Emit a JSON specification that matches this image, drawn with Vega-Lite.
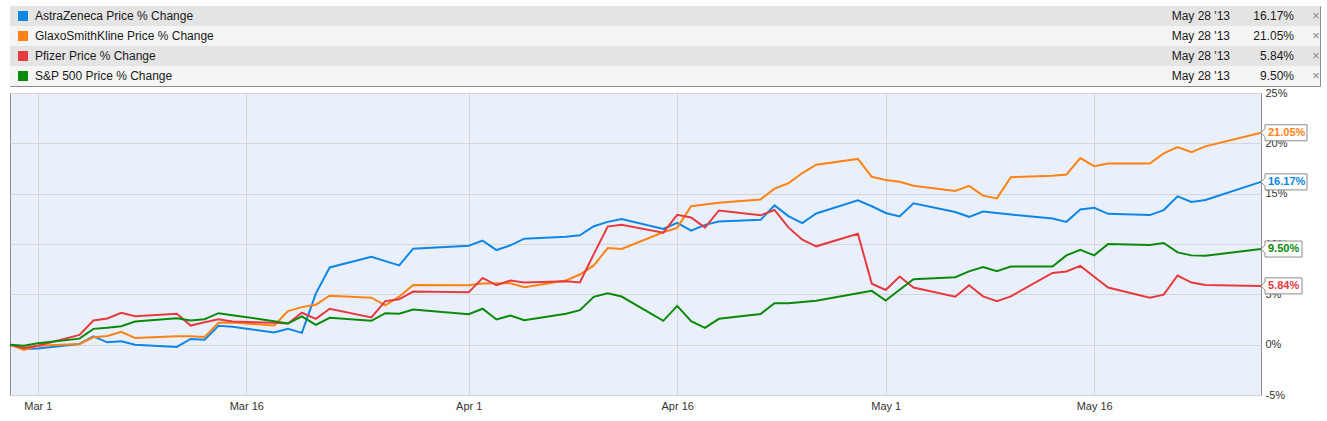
{
  "$schema": "https://vega.github.io/schema/vega-lite/v6.json",
  "background": "white",
  "padding": {"left": 5, "top": 5, "right": 0, "bottom": 0},
  "spacing": 7,
  "bounds": "flush",
  "config": {"font": "Liberation Sans"},
  "datasets": {
    "summary": [
      {"series": "AZN", "label": "AstraZeneca Price % Change", "asOf": "May 28 '13", "date": "2013-05-28", "v": 0.1617},
      {"series": "GSK", "label": "GlaxoSmithKline Price % Change", "asOf": "May 28 '13", "date": "2013-05-28", "v": 0.2105},
      {"series": "PFE", "label": "Pfizer Price % Change", "asOf": "May 28 '13", "date": "2013-05-28", "v": 0.0584},
      {"series": "SPX", "label": "S&P 500 Price % Change", "asOf": "May 28 '13", "date": "2013-05-28", "v": 0.0950}
    ],
    "prices": [
      {"date": "2013-02-27", "AZN": 0, "GSK": 0, "PFE": 0, "SPX": 0},
      {"date": "2013-02-28", "AZN": -0.0043, "GSK": -0.0053, "PFE": -0.0033, "SPX": -0.0010},
      {"date": "2013-03-01", "AZN": -0.0037, "GSK": -0.0010, "PFE": -0.0010, "SPX": 0.0015},
      {"date": "2013-03-04", "AZN": 0.0007, "GSK": 0.0007, "PFE": 0.0097, "SPX": 0.0060},
      {"date": "2013-03-05", "AZN": 0.0083, "GSK": 0.0073, "PFE": 0.0240, "SPX": 0.0157},
      {"date": "2013-03-06", "AZN": 0.0023, "GSK": 0.0087, "PFE": 0.0260, "SPX": 0.0167},
      {"date": "2013-03-07", "AZN": 0.0033, "GSK": 0.0127, "PFE": 0.0317, "SPX": 0.0183},
      {"date": "2013-03-08", "AZN": 0.0000, "GSK": 0.0067, "PFE": 0.0283, "SPX": 0.0230},
      {"date": "2013-03-11", "AZN": -0.0023, "GSK": 0.0083, "PFE": 0.0307, "SPX": 0.0263},
      {"date": "2013-03-12", "AZN": 0.0057, "GSK": 0.0083, "PFE": 0.0190, "SPX": 0.0240},
      {"date": "2013-03-13", "AZN": 0.0050, "GSK": 0.0077, "PFE": 0.0223, "SPX": 0.0253},
      {"date": "2013-03-14", "AZN": 0.0187, "GSK": 0.0217, "PFE": 0.0253, "SPX": 0.0313},
      {"date": "2013-03-15", "AZN": 0.0177, "GSK": 0.0220, "PFE": 0.0230, "SPX": 0.0293},
      {"date": "2013-03-18", "AZN": 0.0120, "GSK": 0.0190, "PFE": 0.0217, "SPX": 0.0233},
      {"date": "2013-03-19", "AZN": 0.0157, "GSK": 0.0333, "PFE": 0.0210, "SPX": 0.0210},
      {"date": "2013-03-20", "AZN": 0.0117, "GSK": 0.0373, "PFE": 0.0317, "SPX": 0.0280},
      {"date": "2013-03-21", "AZN": 0.0507, "GSK": 0.0397, "PFE": 0.0257, "SPX": 0.0197},
      {"date": "2013-03-22", "AZN": 0.0767, "GSK": 0.0487, "PFE": 0.0357, "SPX": 0.0267},
      {"date": "2013-03-25", "AZN": 0.0873, "GSK": 0.0467, "PFE": 0.0270, "SPX": 0.0237},
      {"date": "2013-03-26", "AZN": 0.0830, "GSK": 0.0390, "PFE": 0.0433, "SPX": 0.0313},
      {"date": "2013-03-27", "AZN": 0.0787, "GSK": 0.0477, "PFE": 0.0450, "SPX": 0.0307},
      {"date": "2013-03-28", "AZN": 0.0953, "GSK": 0.0593, "PFE": 0.0527, "SPX": 0.0350},
      {"date": "2013-04-01", "AZN": 0.0983, "GSK": 0.0590, "PFE": 0.0520, "SPX": 0.0303},
      {"date": "2013-04-02", "AZN": 0.1033, "GSK": 0.0607, "PFE": 0.0663, "SPX": 0.0357},
      {"date": "2013-04-03", "AZN": 0.0940, "GSK": 0.0610, "PFE": 0.0590, "SPX": 0.0250},
      {"date": "2013-04-04", "AZN": 0.0987, "GSK": 0.0610, "PFE": 0.0637, "SPX": 0.0290},
      {"date": "2013-04-05", "AZN": 0.1053, "GSK": 0.0570, "PFE": 0.0617, "SPX": 0.0243},
      {"date": "2013-04-08", "AZN": 0.1073, "GSK": 0.0637, "PFE": 0.0630, "SPX": 0.0307},
      {"date": "2013-04-09", "AZN": 0.1087, "GSK": 0.0697, "PFE": 0.0617, "SPX": 0.0343},
      {"date": "2013-04-10", "AZN": 0.1177, "GSK": 0.0787, "PFE": 0.0900, "SPX": 0.0475},
      {"date": "2013-04-11", "AZN": 0.1220, "GSK": 0.0960, "PFE": 0.1173, "SPX": 0.0510},
      {"date": "2013-04-12", "AZN": 0.1247, "GSK": 0.0950, "PFE": 0.1190, "SPX": 0.0478},
      {"date": "2013-04-15", "AZN": 0.1150, "GSK": 0.1117, "PFE": 0.1113, "SPX": 0.0237},
      {"date": "2013-04-16", "AZN": 0.1210, "GSK": 0.1160, "PFE": 0.1290, "SPX": 0.0385},
      {"date": "2013-04-17", "AZN": 0.1133, "GSK": 0.1375, "PFE": 0.1263, "SPX": 0.0233},
      {"date": "2013-04-18", "AZN": 0.1190, "GSK": 0.1393, "PFE": 0.1163, "SPX": 0.0167},
      {"date": "2013-04-19", "AZN": 0.1223, "GSK": 0.1410, "PFE": 0.1333, "SPX": 0.0257},
      {"date": "2013-04-22", "AZN": 0.1240, "GSK": 0.1443, "PFE": 0.1285, "SPX": 0.0305},
      {"date": "2013-04-23", "AZN": 0.1383, "GSK": 0.1550, "PFE": 0.1338, "SPX": 0.0412},
      {"date": "2013-04-24", "AZN": 0.1277, "GSK": 0.1603, "PFE": 0.1165, "SPX": 0.0412},
      {"date": "2013-04-25", "AZN": 0.1207, "GSK": 0.1705, "PFE": 0.1043, "SPX": 0.0423},
      {"date": "2013-04-26", "AZN": 0.1303, "GSK": 0.1788, "PFE": 0.0977, "SPX": 0.0437},
      {"date": "2013-04-29", "AZN": 0.1433, "GSK": 0.1845, "PFE": 0.1102, "SPX": 0.0510},
      {"date": "2013-04-30", "AZN": 0.1375, "GSK": 0.1668, "PFE": 0.0605, "SPX": 0.0535},
      {"date": "2013-05-01", "AZN": 0.1308, "GSK": 0.1635, "PFE": 0.0543, "SPX": 0.0438},
      {"date": "2013-05-02", "AZN": 0.1273, "GSK": 0.1618, "PFE": 0.0677, "SPX": 0.0545},
      {"date": "2013-05-03", "AZN": 0.1405, "GSK": 0.1578, "PFE": 0.0567, "SPX": 0.0650},
      {"date": "2013-05-06", "AZN": 0.1317, "GSK": 0.1527, "PFE": 0.0477, "SPX": 0.0670},
      {"date": "2013-05-07", "AZN": 0.1270, "GSK": 0.1578, "PFE": 0.0590, "SPX": 0.0728},
      {"date": "2013-05-08", "AZN": 0.1323, "GSK": 0.1480, "PFE": 0.0480, "SPX": 0.0770},
      {"date": "2013-05-09", "AZN": 0.1307, "GSK": 0.1453, "PFE": 0.0433, "SPX": 0.0730},
      {"date": "2013-05-10", "AZN": 0.1293, "GSK": 0.1663, "PFE": 0.0480, "SPX": 0.0777},
      {"date": "2013-05-13", "AZN": 0.1253, "GSK": 0.1677, "PFE": 0.0713, "SPX": 0.0777},
      {"date": "2013-05-14", "AZN": 0.1220, "GSK": 0.1690, "PFE": 0.0727, "SPX": 0.0887},
      {"date": "2013-05-15", "AZN": 0.1343, "GSK": 0.1853, "PFE": 0.0783, "SPX": 0.0943},
      {"date": "2013-05-16", "AZN": 0.1360, "GSK": 0.1773, "PFE": 0.0675, "SPX": 0.0887},
      {"date": "2013-05-17", "AZN": 0.1300, "GSK": 0.1800, "PFE": 0.0567, "SPX": 0.1000},
      {"date": "2013-05-20", "AZN": 0.1287, "GSK": 0.1800, "PFE": 0.0467, "SPX": 0.0990},
      {"date": "2013-05-21", "AZN": 0.1337, "GSK": 0.1900, "PFE": 0.0497, "SPX": 0.1010},
      {"date": "2013-05-22", "AZN": 0.1473, "GSK": 0.1963, "PFE": 0.0687, "SPX": 0.0917},
      {"date": "2013-05-23", "AZN": 0.1417, "GSK": 0.1913, "PFE": 0.0617, "SPX": 0.0887},
      {"date": "2013-05-24", "AZN": 0.1437, "GSK": 0.1970, "PFE": 0.0593, "SPX": 0.0883},
      {"date": "2013-05-28", "AZN": 0.1617, "GSK": 0.2105, "PFE": 0.0584, "SPX": 0.0950}
    ]
  },
  "vconcat": [
    {
      "width": 1310,
      "height": 80,
      "data": {"name": "summary"},
      "view": {"stroke": "#8c8c8c", "fill": "white"},
      "encoding": {
        "y": {"field": "series", "type": "nominal", "scale": {"domain": ["AZN", "GSK", "PFE", "SPX"], "paddingInner": 0, "paddingOuter": 0}, "axis": null}
      },
      "layer": [
        {
          "mark": {"type": "rect"},
          "encoding": {
            "x": {"value": 0},
            "x2": {"value": "width"},
            "fill": {"field": "series", "type": "nominal", "scale": {"domain": ["AZN", "GSK", "PFE", "SPX"], "range": ["#e4e4e4", "#f5f5f5", "#e4e4e4", "#f5f5f5"]}, "legend": null}
          }
        },
        {
          "mark": {"type": "point", "shape": "square", "filled": true, "size": 100, "opacity": 1},
          "encoding": {
            "x": {"value": 13},
            "color": {"field": "series", "type": "nominal", "scale": {"domain": ["AZN", "GSK", "PFE", "SPX"], "range": ["#0d86e6", "#ff8214", "#e63a3e", "#0a8a0a"]}, "legend": null}
          }
        },
        {
          "mark": {"type": "text", "align": "left", "baseline": "middle", "fontSize": 12, "color": "#1a1a1a"},
          "encoding": {"x": {"value": 25}, "text": {"field": "label"}}
        },
        {
          "mark": {"type": "text", "align": "right", "baseline": "middle", "fontSize": 12, "color": "#1a1a1a"},
          "encoding": {"x": {"value": 1220}, "text": {"field": "asOf"}}
        },
        {
          "mark": {"type": "text", "align": "right", "baseline": "middle", "fontSize": 12, "color": "#1a1a1a"},
          "encoding": {"x": {"value": 1284}, "text": {"field": "v", "format": ".2%"}}
        },
        {
          "mark": {"type": "text", "align": "center", "baseline": "middle", "fontSize": 13, "color": "#8a8a8a", "text": "×"},
          "encoding": {"x": {"value": 1306}}
        }
      ]
    },
    {
      "width": 1251,
      "height": 302,
      "view": {"fill": "#eaf0fb", "stroke": "#8c8c8c"},
      "encoding": {
        "x": {
          "field": "date",
          "type": "temporal",
          "scale": {"type": "utc", "domain": [{"year": 2013, "month": 2, "date": 27, "utc": true}, {"year": 2013, "month": 5, "date": 28, "utc": true}]},
          "axis": {
            "title": null,
            "values": [
              {"year": 2013, "month": 3, "date": 1, "utc": true},
              {"year": 2013, "month": 3, "date": 16, "utc": true},
              {"year": 2013, "month": 4, "date": 1, "utc": true},
              {"year": 2013, "month": 4, "date": 16, "utc": true},
              {"year": 2013, "month": 5, "date": 1, "utc": true},
              {"year": 2013, "month": 5, "date": 16, "utc": true}
            ],
            "format": "%b %-d",
            "grid": true,
            "gridColor": "#d6d6d6",
            "ticks": false,
            "tickSize": 0,
            "domain": false,
            "labelFlush": false,
            "labelOverlap": false,
            "labelPadding": 5,
            "labelFontSize": 11,
            "labelColor": "#333333"
          }
        },
        "y": {
          "field": "v",
          "type": "quantitative",
          "scale": {"domain": [-0.05, 0.25], "nice": false, "zero": false},
          "axis": {
            "orient": "right",
            "title": null,
            "values": [-0.05, 0, 0.05, 0.1, 0.15, 0.2, 0.25],
            "labelExpr": "round(datum.value * 100) + '%'",
            "grid": true,
            "gridColor": "#d6d6d6",
            "ticks": false,
            "tickSize": 0,
            "domain": false,
            "labelFlush": false,
            "labelOverlap": false,
            "labelPadding": 4,
            "labelFontSize": 11,
            "labelColor": "#333333"
          }
        }
      },
      "layer": [
        {
          "data": {"name": "prices"},
          "transform": [{"fold": ["AZN", "GSK", "PFE", "SPX"], "as": ["series", "v"]}],
          "mark": {"type": "line", "strokeWidth": 2},
          "encoding": {
            "color": {"field": "series", "type": "nominal", "scale": {"domain": ["AZN", "GSK", "PFE", "SPX"], "range": ["#0d86e6", "#ff8214", "#e63a3e", "#0a8a0a"]}, "legend": null}
          }
        },
        {
          "data": {"name": "summary"},
          "mark": {"type": "point", "filled": true, "fill": "white", "stroke": "#8c8c8c", "strokeWidth": 1, "opacity": 1, "size": 4},
          "encoding": {
            "shape": {
              "field": "series",
              "type": "nominal",
              "scale": {
                "domain": ["AZN", "GSK", "PFE", "SPX"],
                "range": [
                  "M0,0L4,-4L4,-8L46,-8L46,8L4,8L4,4Z",
                  "M0,0L4,-4L4,-8L46,-8L46,8L4,8L4,4Z",
                  "M0,0L4,-4L4,-8L41,-8L41,8L4,8L4,4Z",
                  "M0,0L4,-4L4,-8L41,-8L41,8L4,8L4,4Z"
                ]
              },
              "legend": null
            }
          }
        },
        {
          "data": {"name": "summary"},
          "mark": {"type": "text", "align": "left", "baseline": "middle", "dx": 7, "fontSize": 11, "fontWeight": "bold"},
          "encoding": {
            "text": {"field": "v", "format": ".2%"},
            "color": {"field": "series", "type": "nominal", "scale": {"domain": ["AZN", "GSK", "PFE", "SPX"], "range": ["#0d86e6", "#ff8214", "#e63a3e", "#0a8a0a"]}, "legend": null}
          }
        }
      ]
    }
  ]
}
